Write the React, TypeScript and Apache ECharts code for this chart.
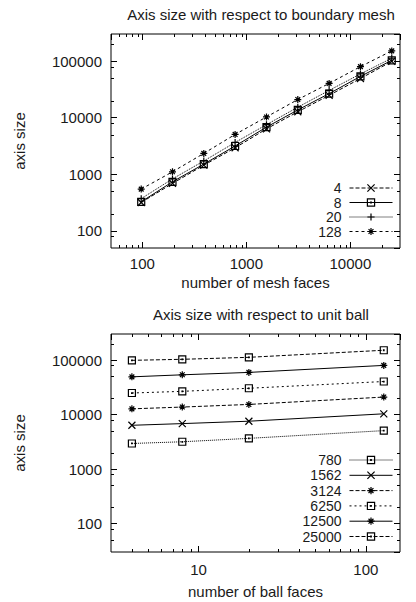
import React, { useEffect, useRef } from 'react';
import * as echarts from 'echarts';

// ---------- Top chart: axis size vs. number of mesh faces ----------
const meshFaces = [97.6, 195, 390, 780, 1562, 3124, 6250, 12500, 25000];
const ballLegend = ['4', '8', '20', '128'];
const axisBall4 = [318, 690, 1450, 2940, 6340, 12700, 24800, 49100, 98600];
const axisBall8 = [327, 738, 1514, 3160, 6810, 13700, 26600, 53500, 103000];
const axisBall20 = [372, 830, 1720, 3650, 7530, 15300, 30300, 59200, 112000];
const axisBall128 = [548, 1107, 2340, 5060, 10300, 20900, 40300, 79600, 151000];

// ---------- Bottom chart: axis size vs. number of ball faces ----------
const ballFaces = [4, 8, 20, 128];
const meshLegend = ['780', '1562', '3124', '6250', '12500', '25000'];
const axisMesh780 = [2940, 3160, 3650, 5060];
const axisMesh1562 = [6340, 6810, 7530, 10300];
const axisMesh3124 = [12700, 13700, 15300, 20900];
const axisMesh6250 = [24800, 26600, 30300, 40300];
const axisMesh12500 = [49100, 53500, 59200, 79600];
const axisMesh25000 = [98600, 103000, 112000, 151000];

// minor tick positions
const topXMinor = [60, 70, 80, 90, 200, 300, 400, 500, 600, 700, 800, 900, 2000, 3000, 4000, 5000, 6000, 7000, 8000, 9000, 20000];
const topYMinor = [80, 200, 500, 800, 2000, 5000, 8000, 20000, 50000, 80000, 200000];
const botXMinor = [4, 5, 6, 7, 8, 9, 20, 30, 40, 50, 60, 70, 80, 90];
const botYMinor = [50, 80, 200, 500, 800, 2000, 5000, 8000, 20000, 50000, 80000, 200000];

const FONT = 'Liberation Sans';
const FS = 15;
const TXT = '#1a1a1a';

const SYM_X = 'path://M0,0L10,10M10,0L0,10';
const SYM_PLUS = 'path://M5,0L5,10M0,5L10,5';
const SYM_STAR = 'path://M5,0L5,10M0,5L10,5M1.6,1.6L8.4,8.4M8.4,1.6L1.6,8.4';
const SYM_BOX = 'path://M0,0L10,0L10,10L0,10ZM4.6,4.6L5.4,4.6L5.4,5.4L4.6,5.4Z';

function lineSeries(name: string, xs: number[], ys: number[], xi: number, yi: number, symbol: string, dash: any) {
  return {
    type: 'line',
    name,
    xAxisIndex: xi,
    yAxisIndex: yi,
    data: xs.map((x, i) => [x, ys[i]]),
    symbol,
    symbolSize: 7,
    showAllSymbol: true,
    itemStyle: { color: 'rgba(0,0,0,0)', borderColor: '#000', borderWidth: 1.2 },
    lineStyle: { color: '#000', width: 1, type: dash },
    emphasis: { disabled: true },
    z: 3,
  };
}

function minorTicks(xi: number, yi: number, xs: number[], ys: number[], xRef: number, yRef: number) {
  const data = [...xs.map((v) => [v, yRef, 0]), ...ys.map((v) => [xRef, v, 1])];
  return {
    type: 'custom',
    xAxisIndex: xi,
    yAxisIndex: yi,
    silent: true,
    z: 4,
    data,
    encode: { x: 0, y: 1 },
    renderItem: (params: any, api: any) => {
      const cs = params.coordSys;
      const p = api.coord([api.value(0), api.value(1)]);
      const kind = api.value(2);
      const L = 3;
      const style = { stroke: '#000', lineWidth: 1 };
      if (kind === 0) {
        const x = Math.round(p[0]) + 0.5;
        return {
          type: 'group',
          children: [
            { type: 'line', shape: { x1: x, y1: cs.y + cs.height, x2: x, y2: cs.y + cs.height - L }, style },
            { type: 'line', shape: { x1: x, y1: cs.y, x2: x, y2: cs.y + L }, style },
          ],
        };
      }
      const y = Math.round(p[1]) + 0.5;
      return {
        type: 'group',
        children: [
          { type: 'line', shape: { x1: cs.x, y1: y, x2: cs.x + L, y2: y }, style },
          { type: 'line', shape: { x1: cs.x + cs.width, y1: y, x2: cs.x + cs.width - L, y2: y }, style },
        ],
      };
    },
  };
}

const labelFmt = (v: number) => String(Math.round(v));

function xAxisPair(grid: number, min: number, max: number, name: string, nameGap: number, margin: number) {
  const base = {
    type: 'log',
    logBase: 10,
    gridIndex: grid,
    min,
    max,
    axisLine: { show: false },
    splitLine: { show: false },
    axisTick: { inside: true, length: 6, lineStyle: { color: '#000', width: 1 } },
  };
  return [
    {
      ...base,
      position: 'bottom',
      name,
      nameLocation: 'middle',
      nameGap,
      nameTextStyle: { fontFamily: FONT, fontSize: FS, color: TXT },
      axisLabel: { show: true, margin, formatter: labelFmt, showMinLabel: false, showMaxLabel: false, fontFamily: FONT, fontSize: FS, color: TXT },
    },
    { ...base, position: 'top', axisLabel: { show: false } },
  ];
}

function yAxisPair(grid: number, min: number, max: number, name: string, nameGap: number) {
  const base = {
    type: 'log',
    logBase: 10,
    gridIndex: grid,
    min,
    max,
    axisLine: { show: false },
    splitLine: { show: false },
    axisTick: { inside: true, length: 6, lineStyle: { color: '#000', width: 1 } },
  };
  return [
    {
      ...base,
      position: 'left',
      name,
      nameLocation: 'middle',
      nameGap,
      nameRotate: 90,
      nameTextStyle: { fontFamily: FONT, fontSize: FS, color: TXT },
      axisLabel: { show: true, margin: 9, formatter: labelFmt, showMinLabel: false, showMaxLabel: false, fontFamily: FONT, fontSize: FS, color: TXT },
    },
    { ...base, position: 'right', axisLabel: { show: false } },
  ];
}

function legendOpt(names: string[], top: number, gap: number, fs: number) {
  return {
    data: names,
    orient: 'vertical',
    right: 23,
    top,
    padding: 0,
    align: 'right',
    itemWidth: 43,
    itemHeight: 9,
    itemGap: gap,
    selectedMode: false,
    lineStyle: { width: 1 },
    itemStyle: { borderWidth: 1.2, color: 'rgba(0,0,0,0)', borderColor: '#000' },
    textStyle: { fontFamily: FONT, fontSize: fs, color: TXT, lineHeight: fs, padding: [0, 3, 0, 0] },
  };
}

export default function App() {
  const ref = useRef<HTMLDivElement>(null);
  useEffect(() => {
    document.body.style.margin = '0';
    const chart = echarts.init(ref.current as HTMLDivElement, null, { renderer: 'svg' });
    const yTop = yAxisPair(0, 50, 300000, 'axis size', 84);
    const yBot = yAxisPair(1, 30, 300000, 'axis size', 84);
    const option = {
      animation: false,
      backgroundColor: '#fff',
      textStyle: { fontFamily: FONT },
      grid: [
        { left: 111, top: 34, width: 289, height: 214, show: true, borderColor: '#000', borderWidth: 1, backgroundColor: 'transparent' },
        { left: 111, top: 334, width: 289, height: 218, show: true, borderColor: '#000', borderWidth: 1, backgroundColor: 'transparent' },
      ],
      xAxis: [
        ...xAxisPair(0, 50, 30000, 'number of mesh faces', 27, 8),
        ...xAxisPair(1, 3, 160, 'number of ball faces', 32, 10),
      ],
      yAxis: [...yTop, ...yBot],
      legend: [legendOpt(ballLegend, 181, 0.5, 14), legendOpt(meshLegend, 453, 1.3, 14)],
      graphic: [
        { type: 'text', x: 261, y: 14, style: { text: 'Axis size with respect to boundary mesh', align: 'center', verticalAlign: 'middle', textAlign: 'center', textVerticalAlign: 'middle', fontFamily: FONT, fontSize: FS, fill: TXT } },
        { type: 'text', x: 261, y: 314, style: { text: 'Axis size with respect to unit ball', align: 'center', verticalAlign: 'middle', textAlign: 'center', textVerticalAlign: 'middle', fontFamily: FONT, fontSize: FS, fill: TXT } },
      ],
      series: [
        lineSeries('4', meshFaces, axisBall4, 0, 0, SYM_X, [4, 2]),
        lineSeries('8', meshFaces, axisBall8, 0, 0, SYM_BOX, 'solid'),
        lineSeries('20', meshFaces, axisBall20, 0, 0, SYM_PLUS, [1, 1]),
        lineSeries('128', meshFaces, axisBall128, 0, 0, SYM_STAR, [3, 3]),
        minorTicks(0, 0, topXMinor, topYMinor, 1000, 1000),
        lineSeries('780', ballFaces, axisMesh780, 2, 2, SYM_BOX, [1, 1]),
        lineSeries('1562', ballFaces, axisMesh1562, 2, 2, SYM_X, 'solid'),
        lineSeries('3124', ballFaces, axisMesh3124, 2, 2, SYM_STAR, [4, 2]),
        lineSeries('6250', ballFaces, axisMesh6250, 2, 2, SYM_BOX, [2, 3]),
        lineSeries('12500', ballFaces, axisMesh12500, 2, 2, SYM_STAR, 'solid'),
        lineSeries('25000', ballFaces, axisMesh25000, 2, 2, SYM_BOX, [4, 2]),
        minorTicks(2, 2, botXMinor, botYMinor, 10, 1000),
      ],
    };
    chart.setOption(option as any);
    return () => chart.dispose();
  }, []);
  return <div ref={ref} style={{ width: 416, height: 602 }} />;
}
